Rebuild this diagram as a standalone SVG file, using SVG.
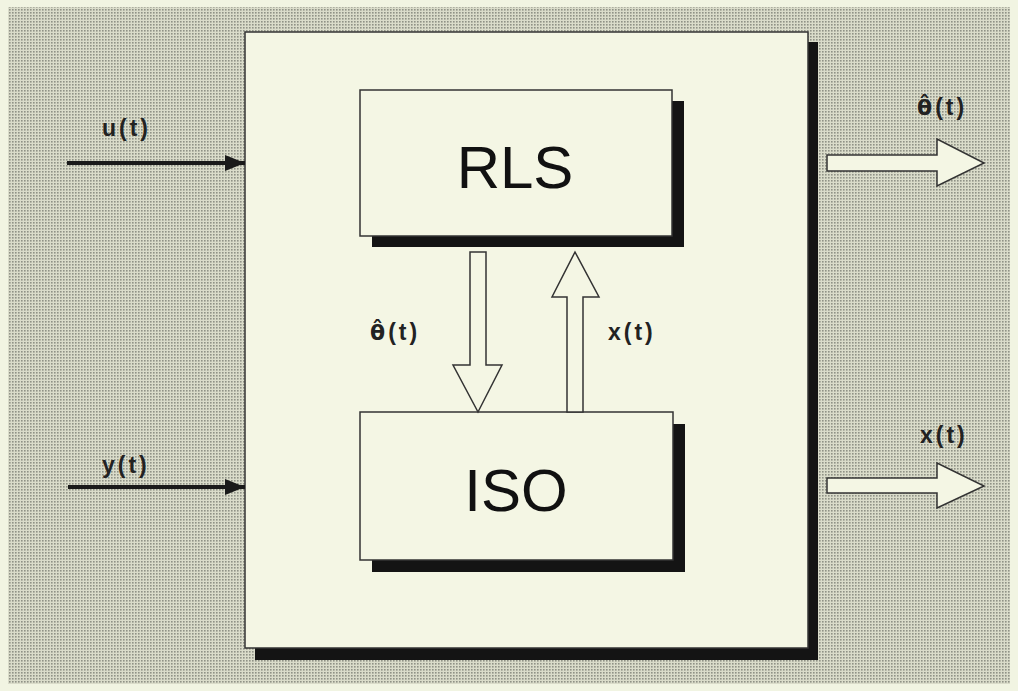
<svg xmlns="http://www.w3.org/2000/svg" width="1018" height="691" viewBox="0 0 1018 691">
<defs>
<pattern id="dots" width="3" height="3" patternUnits="userSpaceOnUse">
<rect width="3" height="3" fill="#dadcca"/>
<rect x="0" y="0" width="1.6" height="1.6" fill="#8f9286"/>
</pattern>
<marker id="ah" markerWidth="5" markerHeight="4" refX="5" refY="2" orient="auto" markerUnits="strokeWidth">
<path d="M0,0 L5,2 L0,4 Z" fill="#1a1a1a"/>
</marker>
</defs>
<style>
.box{fill:#f4f6e4;stroke:#333;stroke-width:1.5}
.shadow{fill:#141414}
.hollow{fill:#f4f6e4;stroke:#333;stroke-width:1.5;stroke-linejoin:miter}
.lbl{font-family:"Liberation Sans",Arial,sans-serif;font-weight:bold;font-size:23px;fill:#222;letter-spacing:3px}
.th{font-family:"DejaVu Sans",sans-serif;font-weight:bold;font-size:22px;fill:#222;letter-spacing:0}
.big{font-family:"Liberation Sans",Arial,sans-serif;font-size:60px;fill:#111;text-anchor:middle}
.line{stroke:#1a1a1a;stroke-width:4;fill:none}
</style>
<rect width="1018" height="691" fill="#f1f4e2"/>
<rect x="8" y="7" width="1002" height="677" fill="url(#dots)"/>

<g id="main">
<rect class="shadow" x="255" y="42" width="563" height="618"/>
<rect class="box" x="245" y="32" width="563" height="616"/>
</g>

<g id="rls">
<rect class="shadow" x="372" y="101" width="312" height="146"/>
<rect class="box" x="360" y="90" width="312" height="146"/>
<text class="big" x="515" y="188">RLS</text>
</g>

<g id="iso">
<rect class="shadow" x="372" y="424" width="313" height="148"/>
<rect class="box" x="360" y="412" width="313" height="148"/>
<text class="big" x="516" y="511">ISO</text>
</g>

<g id="connectors">
<line class="line" x1="67" y1="163" x2="245" y2="163" marker-end="url(#ah)"/>
<line class="line" x1="68" y1="487" x2="245" y2="487" marker-end="url(#ah)"/>
<path class="hollow" d="M470,252 L486,252 L486,365 L502,365 L478,412 L453,365 L470,365 Z"/>
<path class="hollow" d="M567,412 L583,412 L583,297 L599,297 L575,252 L552,297 L567,297 Z"/>
<path class="hollow" d="M827,155 L937,155 L937,139 L984,163 L937,186 L937,171 L827,171 Z"/>
<path class="hollow" d="M827,478 L937,478 L937,463 L984,486 L937,508 L937,493 L827,493 Z"/>
</g>

<g id="labels">
<text class="lbl" x="102" y="136">u(t)</text>
<text class="lbl" x="102" y="473">y(t)</text>
<text x="370" y="340"><tspan class="th">θ̂</tspan><tspan class="lbl" dx="3">(t)</tspan></text>
<text class="lbl" x="608" y="340">x(t)</text>
<text x="917" y="115"><tspan class="th">θ̂</tspan><tspan class="lbl" dx="3">(t)</tspan></text>
<text class="lbl" x="920" y="443">x(t)</text>
</g>
</svg>
